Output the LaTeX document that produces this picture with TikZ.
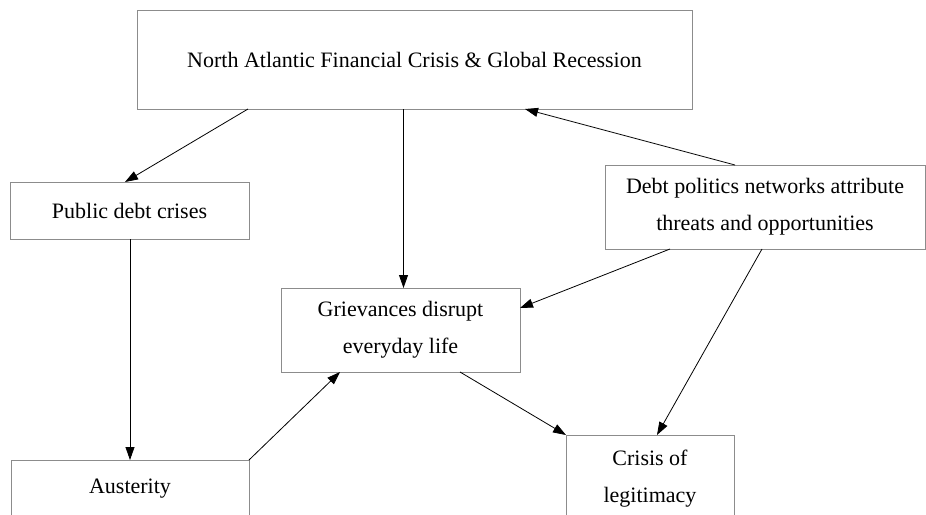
\documentclass[tikz,border=0pt]{standalone}
\usepackage{fontspec}
\setmainfont{Liberation Serif}
\usetikzlibrary{arrows.meta}
\begin{document}
\begin{tikzpicture}[x=1pt,y=-1pt,
  box/.style={draw=black!45,line width=1pt,fill=white,inner sep=0pt,outer sep=0pt,
    align=center,font=\fontsize{22}{37}\selectfont},
  conn/.style={draw=black,line width=0.8pt,-{Triangle[length=13pt,width=9pt]}}]
\useasboundingbox (0,0) rectangle (926,514);
\clip (0,0) rectangle (926,514);
\fill[white] (0,0) rectangle (926,514);
\node[box,minimum width=555pt,minimum height=99pt] (top) at (414.5,59.5) {North Atlantic Financial Crisis \& Global Recession};
\node[box,minimum width=239pt,minimum height=57pt] (pub) at (129.5,210.5) {Public debt crises};
\node[box,minimum width=320pt,minimum height=84pt] (debt) at (765,207) {Debt politics networks attribute\\threats and opportunities};
\node[box,minimum width=239pt,minimum height=84pt] (griev) at (400.5,330) {Grievances disrupt\\everyday life};
\node[box,minimum width=238pt,minimum height=58pt] (aust) at (130,489) {Austerity};
\node[box,minimum width=168pt,minimum height=87pt] (crisis) at (650,478.5) {Crisis of\\legitimacy};
\path ([xshift=3pt]griev.north) coordinate (gN);
\draw[conn] ([xshift=111pt]top.south west) -- ([xshift=115pt]pub.north west);
\draw[conn] (top.south -| gN) -- (gN);
\draw[conn] ([xshift=130pt]debt.north west) -- ([xshift=388pt]top.south west);
\draw[conn] (aust.north |- pub.south) -- (aust.north);
\draw[conn] ([xshift=65pt]debt.south west) -- ([yshift=-20pt]griev.north east);
\draw[conn] ([xshift=157pt]debt.south west) -- ([xshift=91pt]crisis.north west);
\draw[conn] ([xshift=179pt]griev.south west) -- (crisis.north west);
\draw[conn] (aust.north east) -- ([xshift=59pt]griev.south west);
\end{tikzpicture}
\end{document}
